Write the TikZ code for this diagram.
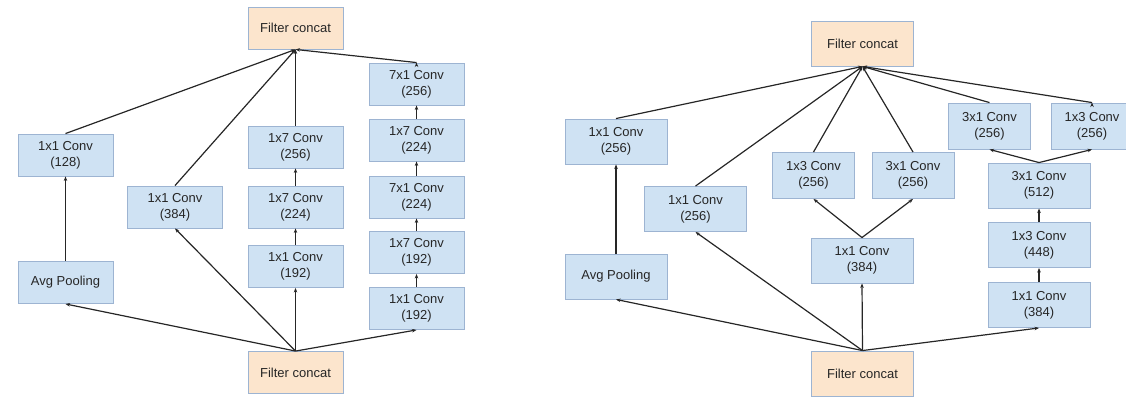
\documentclass[tikz,border=0pt]{standalone}
\usepackage{fontspec}
\setmainfont{Liberation Sans}
\usetikzlibrary{arrows.meta}
\definecolor{convfill}{HTML}{CFE2F3}
\definecolor{convline}{HTML}{9DB4D2}
\definecolor{concatfill}{HTML}{FCE5CD}
\definecolor{edgecol}{HTML}{262626}
\begin{document}
\begin{tikzpicture}[x=1pt, y=-1pt, >={Stealth[length=4.5pt,width=3.5pt]},
		every node/.style={font=\fontsize{13}{16}\selectfont, text=black!85}]
		\tikzstyle{conv}=[draw=convline,fill=convfill,line width=0.9pt,align=center,minimum width=95pt,minimum height=42pt,inner sep=0pt]
		\tikzstyle{concat}=[conv,fill=concatfill]
		\tikzstyle{wide}=[minimum width=102pt,minimum height=45pt]
		\tikzstyle{narrow}=[minimum width=82pt,minimum height=46pt]
		\tikzstyle{link}=[->,draw=edgecol,line width=1.2pt]
		\useasboundingbox (0,0) rectangle (1126,397);
		% left block
		\node[concat](ltop)at(295.5,28){Filter concat};
		\node[concat](lbot)at(295.5,372.5){Filter concat};
		\node[conv](lpoolconv)at(65.5,155){1x1 Conv\\(128)};
		\node[conv](lpool)at(65.5,282.5){Avg Pooling};
		\node[conv](lone)at(175,207){1x1 Conv\\(384)};
		\node[conv](lca)at(295.5,147){1x7 Conv\\(256)};
		\node[conv](lcb)at(295.5,207){1x7 Conv\\(224)};
		\node[conv](lcc)at(295.5,266.5){1x1 Conv\\(192)};
		\node[conv](lda)at(416.5,84){7x1 Conv\\(256)};
		\node[conv](ldb)at(416.5,140){1x7 Conv\\(224)};
		\node[conv](ldc)at(416.5,197){7x1 Conv\\(224)};
		\node[conv](ldd)at(416.5,252.5){1x7 Conv\\(192)};
		\node[conv](lde)at(416.5,308.5){1x1 Conv\\(192)};
		\path[link] (lbot.north) edge (lpool.south) edge (lone.south) edge (lcc.south) edge (lde.south)
		(lpool) edge (lpoolconv)
		(lcc) edge (lcb)
		(lcb) edge (lca)
		(lde) edge (ldd)
		(ldd) edge (ldc)
		(ldc) edge (ldb)
		(ldb) edge (lda)
		(lpoolconv.north) edge (ltop.south)
		(lone.north) edge (ltop.south)
		(lca.north) edge (ltop.south)
		(lda.north) edge (ltop.south);
		% right block
		\node[concat,wide](rtop)at(862.5,43.5){Filter concat};
		\node[concat,wide](rbot)at(862.5,373.5){Filter concat};
		\node[conv,wide](rpoolconv)at(616,141.5){1x1 Conv\\(256)};
		\node[conv,wide](rpool)at(616,276.5){Avg Pooling};
		\node[conv,wide](rone)at(695.5,209){1x1 Conv\\(256)};
		\node[conv,wide](rsplit)at(862,260.5){1x1 Conv\\(384)};
		\node[conv,narrow](rsa)at(813.5,175.5){1x3 Conv\\(256)};
		\node[conv,narrow](rsb)at(913,175.5){3x1 Conv\\(256)};
		\node[conv,wide](rdc)at(1039,305){1x1 Conv\\(384)};
		\node[conv,wide](rdb)at(1039,245){1x3 Conv\\(448)};
		\node[conv,wide](rda)at(1039,185.5){3x1 Conv\\(512)};
		\node[conv,narrow](rdl)at(989.5,126){3x1 Conv\\(256)};
		\node[conv,narrow](rdr)at(1092,126){1x3 Conv\\(256)};
		\path[link] (rbot.north) edge (rpool.south) edge (rone.south) edge (rsplit.south) edge (rdc.south)
		(rpool) edge (rpoolconv)
		(rsplit.north) edge (rsa.south) edge (rsb.south)
		(rdc) edge (rdb)
		(rdb) edge (rda)
		(rda.north) edge (rdl.south) edge (rdr.south)
		(rpoolconv.north) edge (rtop.south)
		(rone.north) edge (rtop.south)
		(rsa.north) edge (rtop.south)
		(rsb.north) edge (rtop.south)
		(rdl.north) edge (rtop.south)
		(rdr.north) edge (rtop.south);
\end{tikzpicture}
\end{document}
